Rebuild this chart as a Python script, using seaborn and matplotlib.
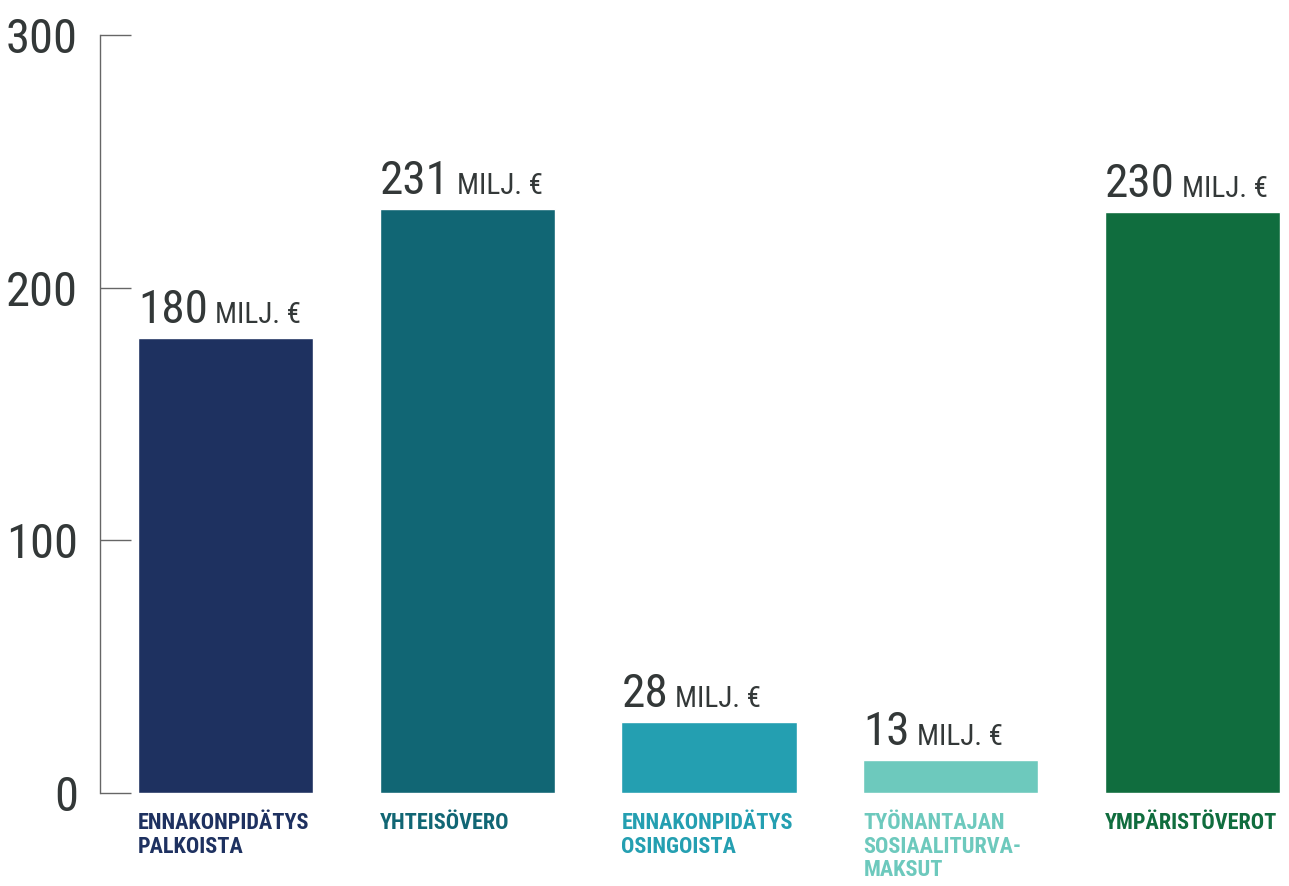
import matplotlib
matplotlib.use("Agg")
import matplotlib.pyplot as plt
import matplotlib.font_manager as fm
import seaborn as sns
import pandas as pd

categories = ["ENNAKONPIDÄTYS\nPALKOISTA", "YHTEISÖVERO", "ENNAKONPIDÄTYS\nOSINGOISTA",
              "TYÖNANTAJAN\nSOSIAALITURVA-\nMAKSUT", "YMPÄRISTÖVEROT"]
values = [180, 231, 28, 13, 230]
colors = ["#1e3160", "#116674", "#249fb1", "#6dc9bd", "#106d3e"]
yticks = [0, 100, 200, 300]
unit = "MILJ. €"

names = {f.name for f in fm.fontManager.ttflist}
stretch = "normal"
if "Roboto Condensed" in names:
    fam = "Roboto Condensed"
elif "Liberation Sans Narrow" in names:
    fam = "Liberation Sans Narrow"
else:
    fam = "DejaVu Sans"
    stretch = "condensed"

sns.set_theme(style="white")
plt.rcParams["font.family"] = [fam, "DejaVu Sans"]
plt.rcParams["font.stretch"] = stretch

W, H = 1289, 886
fig = plt.figure(figsize=(W / 100, H / 100), dpi=100)
ax = fig.add_axes([100 / W, (H - 793) / H, (W - 100) / W, (793 - 35) / H])

df = pd.DataFrame({"cat": categories, "val": values})
sns.barplot(data=df, x="cat", y="val", hue="cat", palette=colors, width=0.724,
            legend=False, saturation=1, ax=ax)

ax.set_xlim(-0.519, 4.399)
ax.set_ylim(0, 300)
ax.set_yticks(yticks)
ax.set_yticklabels([str(t) for t in yticks])
ax.set_xticks([])
ax.set_xlabel("")
ax.set_ylabel("")
for s in ["top", "right", "bottom"]:
    ax.spines[s].set_visible(False)
ax.spines["left"].set_color("#666666")
ax.spines["left"].set_linewidth(1)
ax.tick_params(axis="y", direction="in", length=22, width=1, color="#666666",
               pad=16, labelsize=35, labelcolor="#333838", left=True)

txtc = "#333838"
for i, (p, v, c, cat) in enumerate(zip(ax.patches, values, colors, categories)):
    x0 = p.get_x()
    num = ax.annotate(str(v), xy=(x0, v), xytext=(0, 11), textcoords="offset points",
                      ha="left", va="baseline", fontsize=34, color=txtc,
                      annotation_clip=False)
    ax.annotate(unit, xy=(1, v), xycoords=(num, "data"), xytext=(5, 11),
                textcoords="offset points", ha="left", va="baseline",
                fontsize=21, color=txtc, annotation_clip=False)
    ax.annotate(cat, xy=(x0, 0), xytext=(0, -14), textcoords="offset points",
                ha="left", va="top", fontsize=16, color=c, fontweight="bold",
                linespacing=1.08, annotation_clip=False)

fig.savefig("out.png", dpi=100)
